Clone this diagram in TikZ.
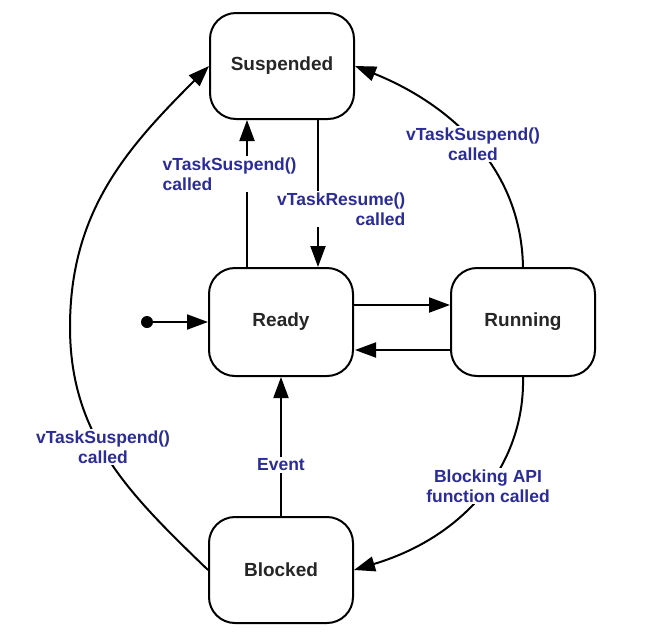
\documentclass[tikz,border=0pt]{standalone}
\usepackage{fontspec}
\setmainfont{Liberation Sans}
\usetikzlibrary{arrows.meta}
\definecolor{lblue}{HTML}{2B2C96}
\definecolor{ntext}{HTML}{262626}
\begin{document}
\begin{tikzpicture}[x=1pt,y=-1pt,
  state/.style={draw=black,line width=2pt,rounded corners=26pt,minimum width=144pt,minimum height=106pt,
    font=\fontsize{19}{22}\selectfont\bfseries,text=ntext,inner sep=0pt},
  lbl/.style={fill=white,inner sep=1.5pt,text=lblue,font=\fontsize{17.5}{20.5}\selectfont\bfseries},
  arr/.style={line width=2pt,-{Triangle[length=21pt,width=15pt]}},
  ln/.style={line width=2pt}]
\useasboundingbox (0,0) rectangle (646,638);
\node[state] (Suspended) at (282,66) {Suspended};
\node[state,minimum height=108pt] (Ready) at (281,322) {Ready};
\node[state,minimum height=108pt] (Running) at (523,322) {Running};
\node[state] (Blocked) at (281,570) {Blocked};
\node[circle,fill=black,inner sep=0pt,minimum size=12pt] (init) at (147,322) {};
\coordinate (lw) at (70,327);
% edges
\draw[arr] (init) -- (Ready);
\draw[arr] ([yshift=17pt]Ready.east) -- ([yshift=17pt]Running.west);
\draw[arr] ([yshift=-28pt]Running.west) -- ([xshift=1pt,yshift=-28pt]Ready.east);
\draw[arr] ([xshift=-34pt]Ready.north) -- ([xshift=-35pt]Suspended.south);
\draw[arr] ([xshift=36pt]Suspended.south) -- ([xshift=37pt]Ready.north);
\draw[arr] (Blocked.north) -- (Ready.south);
\draw[arr] (Running.north) .. controls (521,160) and (440,100) .. (Suspended.east);
\draw[arr] (Running.south) .. controls (525,460) and (470,535) .. (Blocked.east);
\draw[ln] (Blocked.west) to[out=136,in=-90] (lw);
\draw[arr] (lw) to[out=90,in=-135] (Suspended.west);
% labels
\node[lbl,align=left,anchor=west] (l1) at (161,174) {vTaskSuspend()\\called};
\node[lbl,align=right,anchor=east] (l2) at (407,209) {vTaskResume()\\called};
\node[lbl,align=center] (l3) at (473,144) {vTaskSuspend()\\called};
\node[lbl,align=center] (l4) at (103,447) {vTaskSuspend()\\called};
\node[lbl,align=center] (l5) at (488,486) {Blocking API\\function called};
\node[lbl] (l6) at (281,465) {Event};
\end{tikzpicture}
\end{document}
